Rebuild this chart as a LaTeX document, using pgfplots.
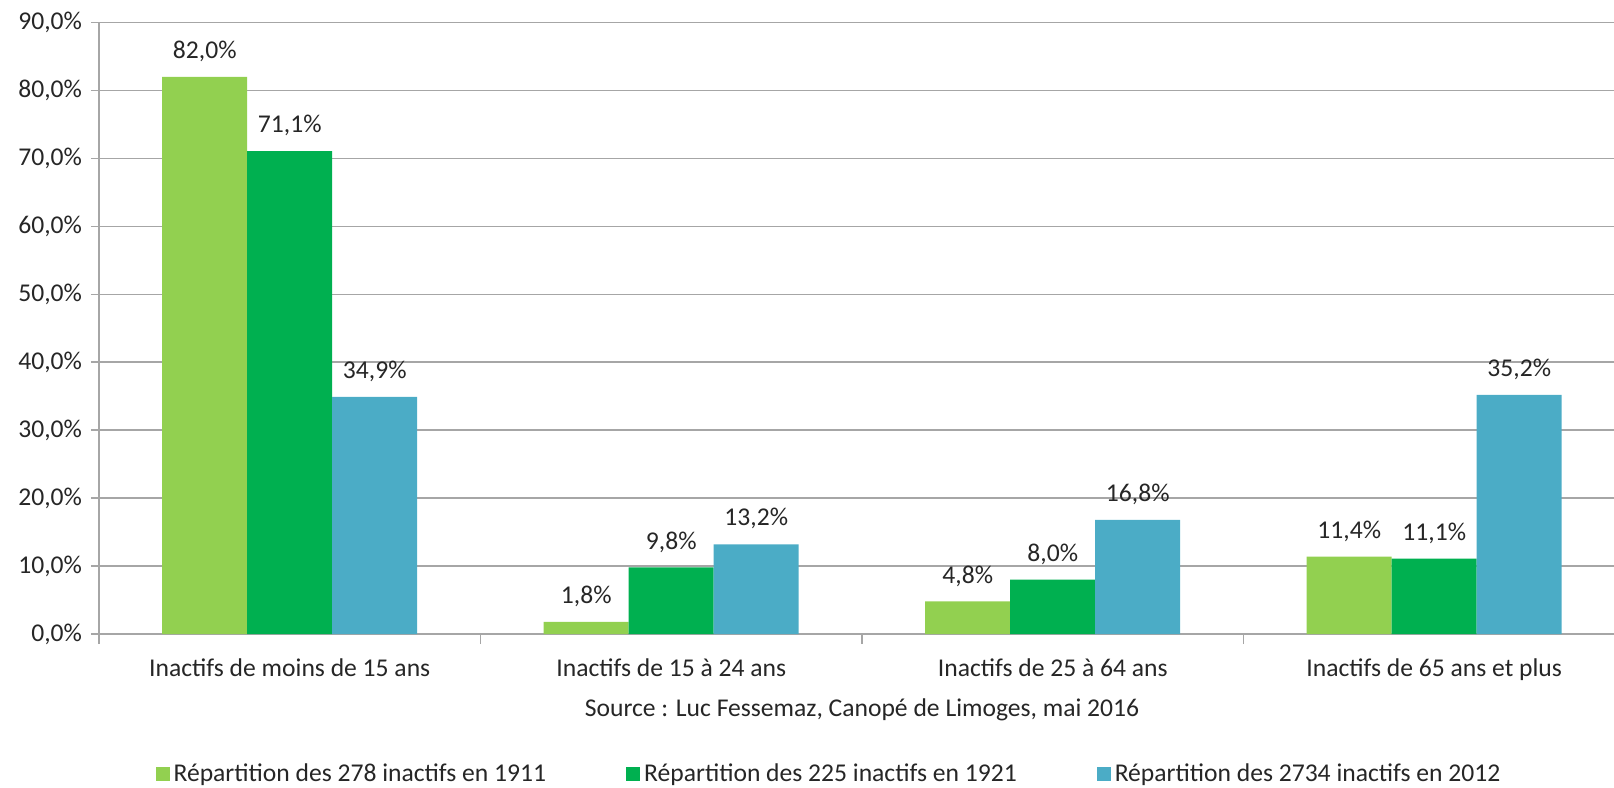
\documentclass[border=0pt]{standalone}
\usepackage{pgfplots}
\pgfplotsset{compat=1.18}
\usepackage{fontspec}
\setmainfont{Carlito}
\definecolor{cA}{HTML}{92D050}
\definecolor{cB}{HTML}{00B050}
\definecolor{cC}{HTML}{4BACC6}
\definecolor{gridc}{HTML}{A6A6A6}
\newcommand{\chartfont}{\fontsize{12.8}{15}\selectfont}
\begin{document}
\begin{tikzpicture}
\begin{axis}[
  at={(0,0)}, anchor=south west,
  scale only axis, width=763pt, height=305.7pt,
  ybar=0pt, bar width=42.5pt,
  xmin=-0.5, xmax=3.5, ymin=0, ymax=90,
  axis lines*=left,
  axis line style={gridc, line width=0.8pt},
  xtick={0,1,2,3},
  xticklabels={Inactifs de moins de 15 ans, Inactifs de 15 à 24 ans, Inactifs de 25 à 64 ans, Inactifs de 65 ans et plus},
  major x tick style={draw=none},
  minor xtick={-0.5,0.5,1.5,2.5,3.5},
  minor x tick style={gridc, line width=0.8pt},
  minor tick length=5pt,
  ytick={0,10,...,90},
  ymajorgrids, grid style={gridc, line width=0.8pt},
  major y tick style={gridc, line width=0.8pt},
  major tick length=4pt,
  tick align=outside,
  /pgf/number format/assume math mode=true,
  yticklabel={\pgfmathprintnumber[fixed,fixed zerofill,precision=1,use comma]{\tick}\%},
  yticklabel style={font=\chartfont, color=black!85, xshift=-1pt},
  xticklabel style={font=\chartfont, color=black!85, yshift=-5pt},
  xlabel={Source : Luc Fessemaz, Canopé de Limoges, mai 2016},
  xlabel style={font=\chartfont, color=black!85, yshift=-2pt},
  nodes near coords={\pgfmathprintnumber[fixed,fixed zerofill,precision=1,use comma]{\pgfplotspointmeta}\%},
  every node near coord/.append style={font=\chartfont, color=black!85, yshift=4pt},
  legend columns=3,
  legend style={at={(0.479,-0.229)}, anchor=center, draw=none, font=\chartfont, text=black!85,
    /tikz/every even column/.append style={column sep=38pt}},
  legend image code/.code={\fill[#1] (1pt,-3.5pt) rectangle (8pt,3.5pt);},
]
\addplot[fill=cA, draw=none] coordinates {(0,82.0) (1,1.8) (2,4.8) (3,11.4)};
\addplot[fill=cB, draw=none] coordinates {(0,71.1) (1,9.8) (2,8.0) (3,11.1)};
\addplot[fill=cC, draw=none] coordinates {(0,34.9) (1,13.2) (2,16.8) (3,35.2)};
\legend{Répartition des 278 inactifs en 1911, Répartition des 225 inactifs en 1921, Répartition des 2734 inactifs en 2012}
\end{axis}
\pgfresetboundingbox
\path[use as bounding box] (-49.5pt,-77pt) rectangle (757.5pt,317pt);
\end{tikzpicture}
\end{document}
